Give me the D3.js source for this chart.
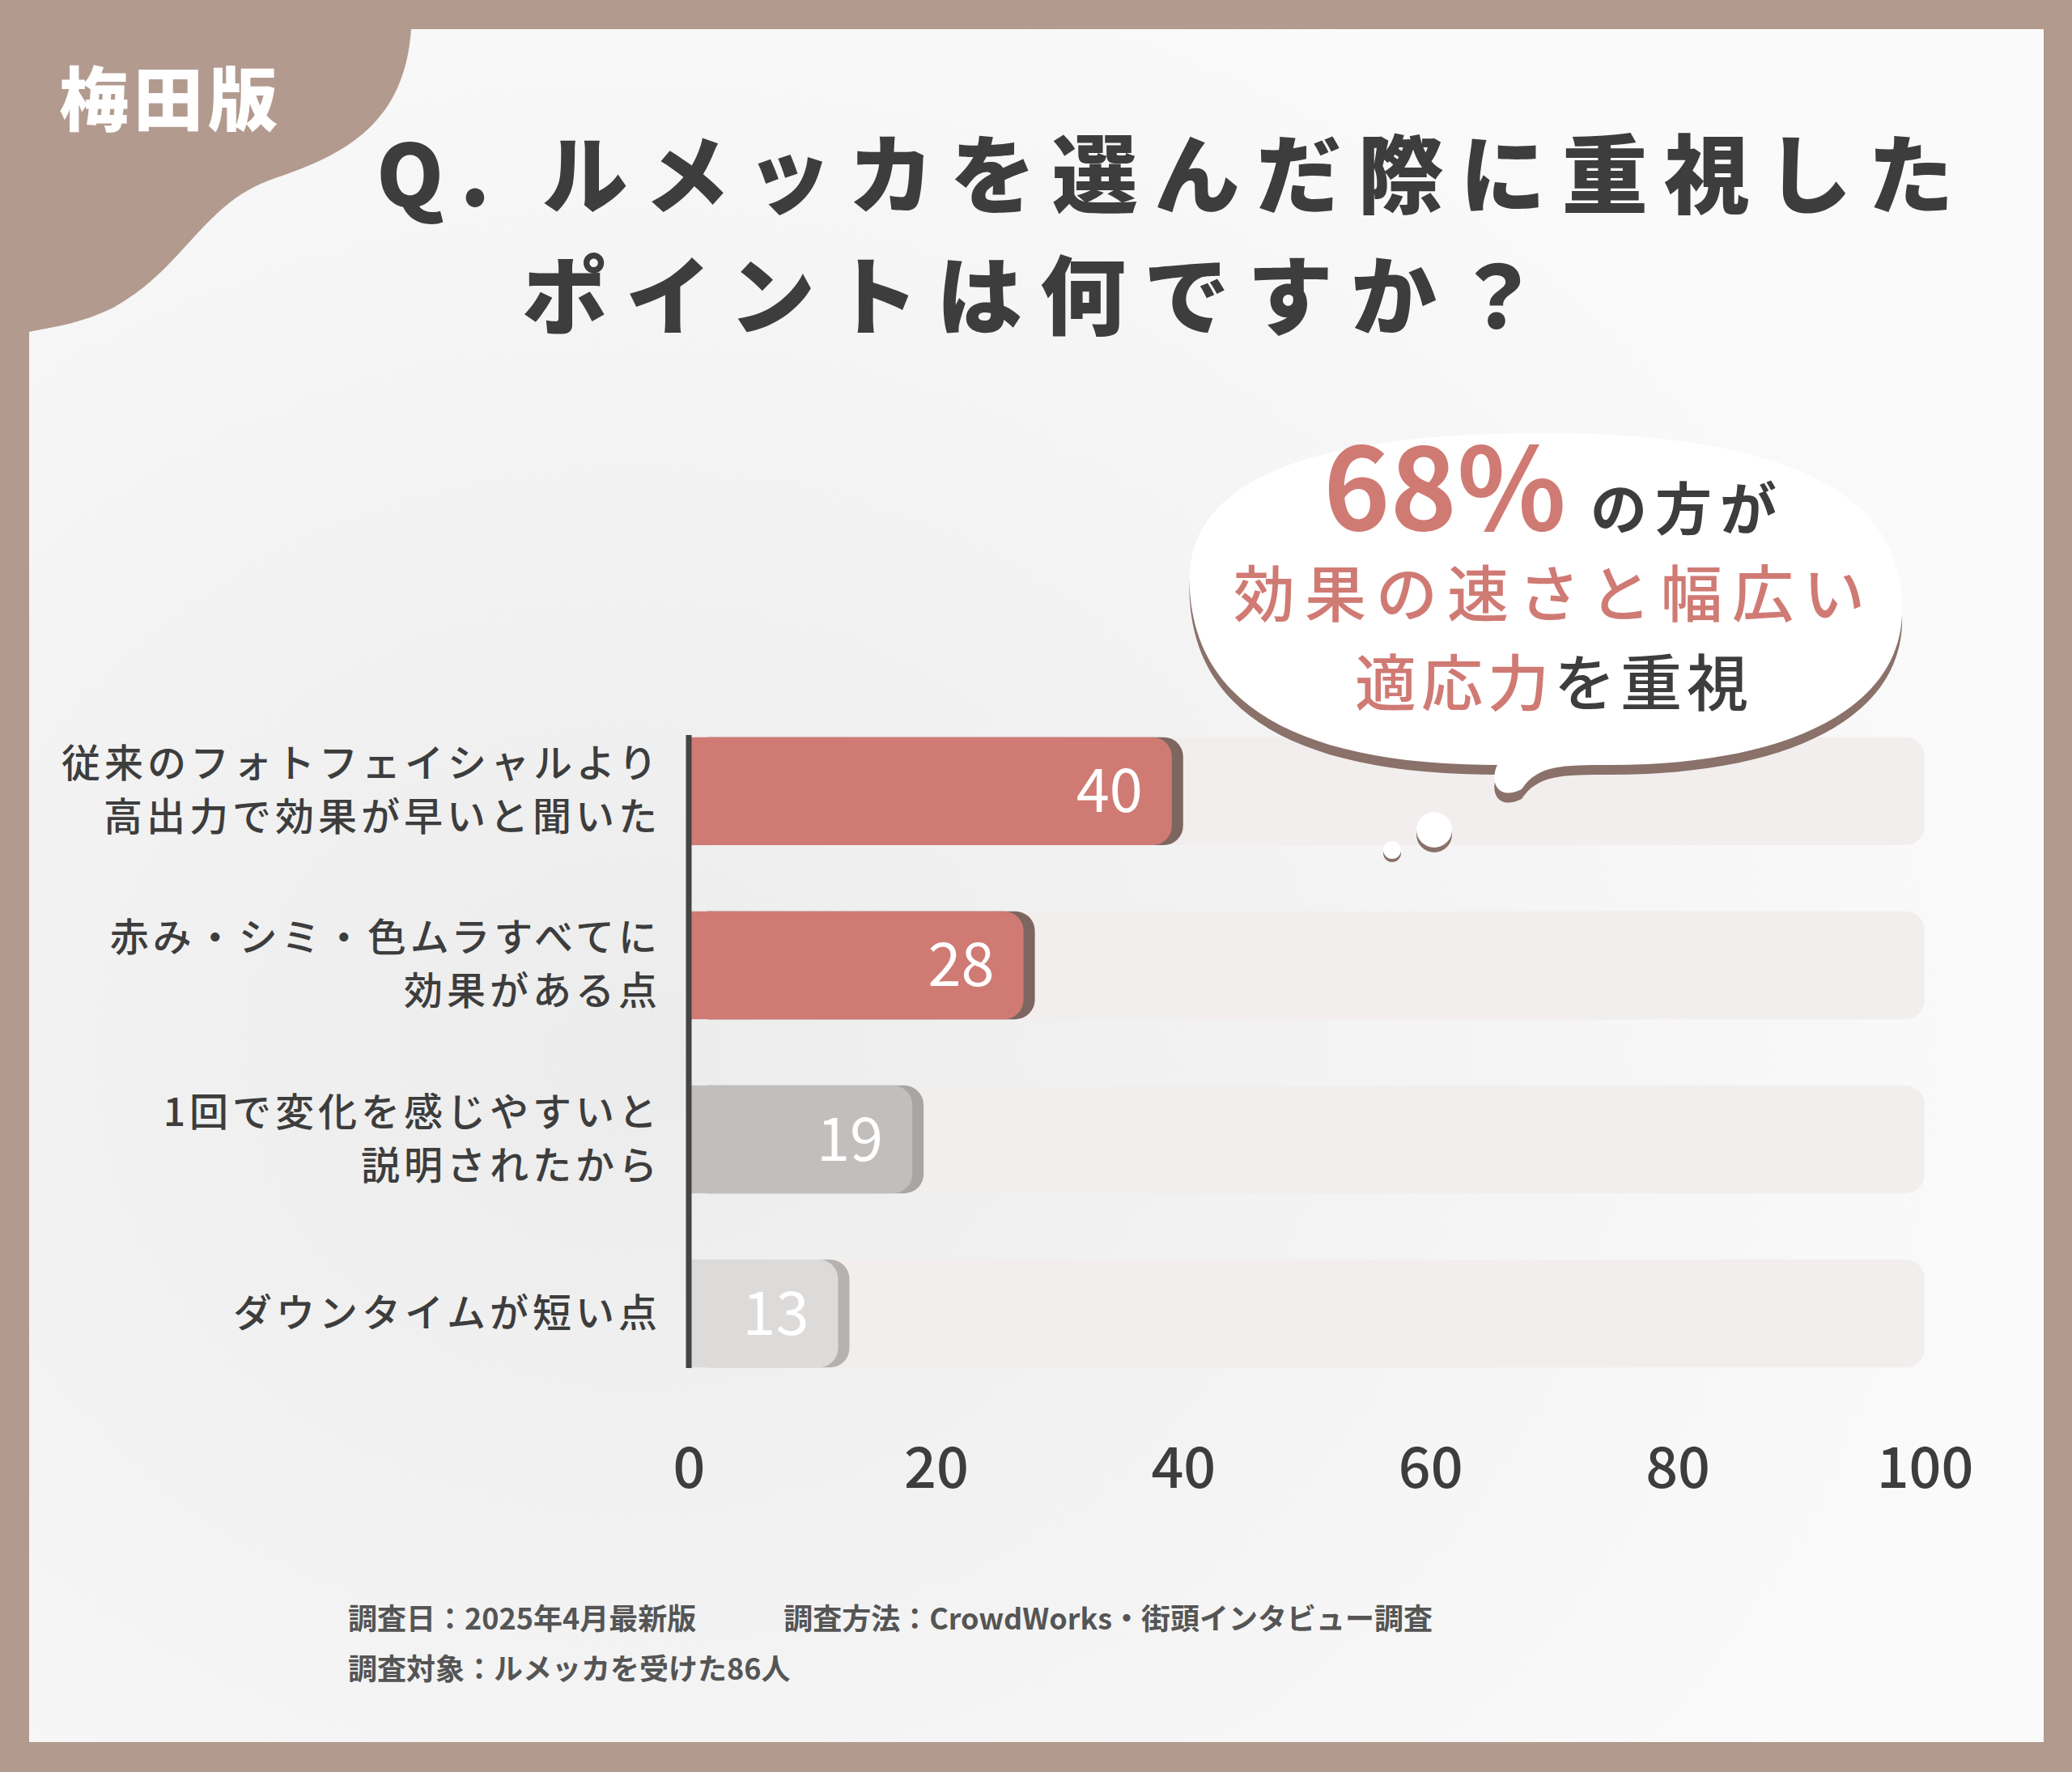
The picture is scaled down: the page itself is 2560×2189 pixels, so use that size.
<!DOCTYPE html>
<html><head><meta charset="utf-8">
<script src="https://cdn.jsdelivr.net/npm/d3@7"></script>
<style>body{margin:0;background:#b39a8f}</style></head>
<body><svg id="c" width="2560" height="2189"></svg>
<script>
const categories=[["従来のフォトフェイシャルより","高出力で効果が早いと聞いた"],["赤み・シミ・色ムラすべてに","効果がある点"],["1回で変化を感じやすいと","説明されたから"],["ダウンタイムが短い点"]];
const values=[40,28,19,13];
const barColors=["#d07a74","#d07a74","#c2bebc","#dddbda"];
const shadowColors=["#7e6660","#7e6660","#a9a5a3","#b5b2b0"];
const ticks=[0,20,40,60,80,100];
const F="'Noto Sans CJK JP',sans-serif";
const svg=d3.select("#c");
svg.append("rect").attr("width",2560).attr("height",2189).attr("fill","#b39a8f");
const defs=svg.append("defs");
const g=defs.append("radialGradient").attr("id","bg").attr("cx","30%").attr("cy","60%").attr("r","70%");
g.append("stop").attr("offset","0").attr("stop-color","#ececec");
g.append("stop").attr("offset","1").attr("stop-color","#fafafa");
svg.append("rect").attr("x",36).attr("y",36).attr("width",2489).attr("height",2116).attr("fill","url(#bg)");
svg.append("path").attr("d","M36,36 H508 C500,150 430,190 340,220 C250,250 230,330 140,380 C100,400 60,405 36,410 Z").attr("fill","#b39a8f");
svg.append("text").attr("x",73).attr("y",155).attr("font-family",F).attr("font-weight",900).attr("font-size",86).attr("letter-spacing",6).attr("fill","#fff").text("梅田版");
svg.append("text").attr("x",465).attr("y",255).attr("font-family",F).attr("font-weight",900).attr("font-size",106).attr("letter-spacing",20).attr("fill","#3d3d3d").text("Q. ルメッカを選んだ際に重視した");
svg.append("text").attr("x",645).attr("y",405).attr("font-family",F).attr("font-weight",900).attr("font-size",106).attr("letter-spacing",22).attr("fill","#3d3d3d").text("ポイントは何ですか？");
const x=d3.scaleLinear().domain([0,100]).range([851,2378]);
const y=d3.scaleBand().domain(d3.range(4)).range([900,1700]).paddingInner(0.38).paddingOuter(0.05);
const bh=y.bandwidth();
const rows=svg.append("g").selectAll("g").data(values).join("g");
rows.append("rect").attr("x",x(0)).attr("y",(d,i)=>y(i)).attr("width",x(100)-x(0)).attr("height",bh).attr("rx",24).attr("fill","#f1eeed");
rows.append("rect").attr("x",x(0)).attr("y",(d,i)=>y(i)).attr("width",d=>x(d)-x(0)).attr("height",bh).attr("rx",24).attr("fill",(d,i)=>shadowColors[i]);
rows.append("rect").attr("x",x(0)).attr("y",(d,i)=>y(i)).attr("width",d=>x(d)-x(0)-14).attr("height",bh).attr("rx",24).attr("fill",(d,i)=>barColors[i]);
rows.append("rect").attr("x",x(0)).attr("y",(d,i)=>y(i)).attr("width",30).attr("height",bh).attr("fill",(d,i)=>barColors[i]);
rows.append("text").attr("x",d=>x(d)-50).attr("y",(d,i)=>y(i)+bh/2+26).attr("text-anchor","end").attr("font-family",F).attr("font-size",74).attr("fill","#fff").text(d=>d);
rows.each(function(d,i){
  const lines=categories[i], t=d3.select(this);
  lines.forEach((l,j)=>t.append("text").attr("x",817).attr("y",y(i)+bh/2+16+(j-(lines.length-1)/2)*66).attr("text-anchor","end").attr("font-family",F).attr("font-weight",500).attr("font-size",48).attr("letter-spacing",5).attr("fill","#3d3d3d").text(l));
});
svg.append("line").attr("x1",x(0)).attr("x2",x(0)).attr("y1",908).attr("y2",1690).attr("stroke","#444").attr("stroke-width",7);
const ax=svg.append("g").attr("transform","translate(0,1835)").call(d3.axisBottom(x).tickValues(ticks).tickSize(0));
ax.select(".domain").remove();
ax.selectAll("text").attr("font-family",F).attr("font-weight",500).attr("font-size",70).attr("fill","#3d3d3d").attr("dy",0);
svg.append("path").attr("d","M1470,730 C1460,600 1600,535 1907,535 C2230,535 2355,620 2350,760 C2345,880 2200,945 1990,945 C1930,945 1900,945 1880,975 C1850,990 1840,965 1850,945 C1620,945 1480,880 1470,730 Z")
 .attr("fill","#fff").attr("filter","drop-shadow(0 12px 0 #8a716a)");
svg.append("circle").attr("cx",1772).attr("cy",1025).attr("r",22).attr("fill","#fff").attr("filter","drop-shadow(0 6px 0 #8a716a)");
svg.append("circle").attr("cx",1720).attr("cy",1050).attr("r",11).attr("fill","#fff").attr("filter","drop-shadow(0 4px 0 #8a716a)");
const bt=svg.append("text").attr("x",1920).attr("y",655).attr("text-anchor","middle").attr("font-family",F).attr("font-weight",700);
bt.append("tspan").attr("font-size",140).attr("fill","#d07a74").text("68%");
bt.append("tspan").attr("font-size",70).attr("fill","#3d3d3d").attr("dx",30).attr("letter-spacing",10).text("の方が");
svg.append("text").attr("x",1920).attr("y",762).attr("text-anchor","middle").attr("font-family",F).attr("font-weight",500).attr("font-size",76).attr("letter-spacing",12).attr("fill","#d07a74").text("効果の速さと幅広い");
const b3=svg.append("text").attr("x",1920).attr("y",872).attr("text-anchor","middle").attr("font-family",F).attr("font-weight",500).attr("font-size",76).attr("letter-spacing",6);
b3.append("tspan").attr("fill","#d07a74").text("適応力");
b3.append("tspan").attr("fill","#3d3d3d").text("を重視");
svg.append("text").attr("x",430).attr("y",2013).attr("font-family",F).attr("font-weight",700).attr("font-size",36).attr("fill","#555").attr("xml:space","preserve").text("調査日：2025年4月最新版　　　調査方法：CrowdWorks・街頭インタビュー調査");
svg.append("text").attr("x",430).attr("y",2075).attr("font-family",F).attr("font-weight",700).attr("font-size",36).attr("fill","#555").text("調査対象：ルメッカを受けた86人");
</script></body></html>
